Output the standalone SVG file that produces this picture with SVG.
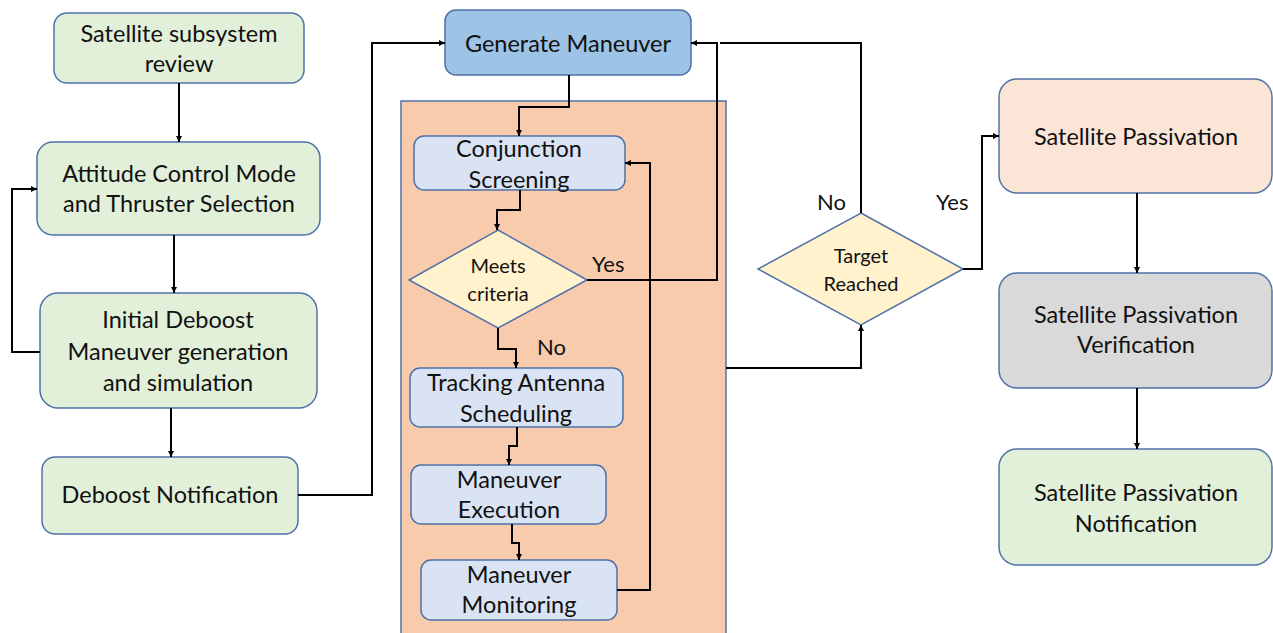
<svg xmlns="http://www.w3.org/2000/svg" width="1273" height="633" viewBox="0 0 1273 633">
<defs>
<marker id="ah" viewBox="0 0 10 10" refX="10" refY="5" markerWidth="6" markerHeight="6" markerUnits="userSpaceOnUse" orient="auto">
<path d="M0,0 L10,5 L0,10 z" fill="#000"/>
</marker>
<style>
.box{stroke:#4F71A8;stroke-width:1.5}
.g{fill:#E2F0D9}.b{fill:#DAE3F3}.gm{fill:#9DC3E6}.y{fill:#FFF2CC}.p{fill:#FBE5D6}.gr{fill:#D9D9D9}
.t{font-family:Lato,"Open Sans",sans-serif;font-size:23.5px;fill:#111;text-anchor:middle}
.s{font-size:20px}
.c{fill:none;stroke:#000;stroke-width:2;marker-end:url(#ah)}
.c2{fill:none;stroke:#000;stroke-width:2}
.lb{font-family:Lato,"Open Sans",sans-serif;font-size:22px;fill:#111}
</style>
</defs>
<rect width="1273" height="633" fill="#fff"/>
<rect id="container" x="401" y="101" width="325" height="540" fill="#F8CBAD" stroke="#4F71A8" stroke-width="1.5"/>
<g id="n1"><rect class="box g" x="54" y="13" width="250" height="70" rx="13"/><text class="t" x="179" y="42">Satellite subsystem</text><text class="t" x="179" y="72">review</text></g>
<g id="n2"><rect class="box g" x="37" y="142" width="283" height="93" rx="16"/><text class="t" x="179" y="182">Attitude Control Mode</text><text class="t" x="179" y="212">and Thruster Selection</text></g>
<g id="n3"><rect class="box g" x="40" y="293" width="277" height="115" rx="18"/><text class="t" x="178" y="328">Initial Deboost</text><text class="t" x="178" y="360">Maneuver generation</text><text class="t" x="178" y="391">and simulation</text></g>
<g id="n4"><rect class="box g" x="42" y="457" width="256" height="77" rx="13"/><text class="t" x="170" y="503">Deboost Notification</text></g>
<g id="gm"><rect class="box gm" x="445" y="10" width="246" height="65" rx="11"/><text class="t" x="568" y="52">Generate Maneuver</text></g>
<g id="cs"><rect class="box b" x="414" y="136" width="211" height="54" rx="10"/><text class="t" x="519" y="157">Conjunction</text><text class="t" x="519" y="188">Screening</text></g>
<g id="mc"><polygon class="box y" points="498,230 587,280 498,328 409,280"/><text class="t s" x="498" y="273">Meets</text><text class="t s" x="498" y="301">criteria</text></g>
<g id="ta"><rect class="box b" x="410" y="368" width="213" height="59" rx="10"/><text class="t" x="516" y="391">Tracking Antenna</text><text class="t" x="516" y="422">Scheduling</text></g>
<g id="me"><rect class="box b" x="411" y="465" width="195" height="59" rx="10"/><text class="t" x="509" y="488">Maneuver</text><text class="t" x="509" y="518">Execution</text></g>
<g id="mm"><rect class="box b" x="421" y="560" width="196" height="60" rx="10"/><text class="t" x="519" y="583">Maneuver</text><text class="t" x="519" y="613">Monitoring</text></g>
<g id="tr"><polygon class="box y" points="861,213 963,269 861,325 758,269"/><text class="t s" x="861" y="263">Target</text><text class="t s" x="861" y="291">Reached</text></g>
<g id="sp"><rect class="box p" x="999" y="79" width="273" height="114" rx="18"/><text class="t" x="1136" y="145">Satellite Passivation</text></g>
<g id="spv"><rect class="box gr" x="999" y="273" width="273" height="115" rx="18"/><text class="t" x="1136" y="323">Satellite Passivation</text><text class="t" x="1136" y="353">Verification</text></g>
<g id="spn"><rect class="box g" x="999" y="449" width="273" height="116" rx="18"/><text class="t" x="1136" y="501">Satellite Passivation</text><text class="t" x="1136" y="532">Notification</text></g>
<g id="connectors">
<path class="c" d="M179,83 V142"/>
<path class="c" d="M174,235 V293"/>
<path class="c" d="M171,408 V457"/>
<path class="c" d="M40,352 H12 V189 H37"/>
<path class="c" d="M298,495 H372 V43 H445"/>
<path class="c" d="M569,75 V107 H519 V136"/>
<path class="c" d="M520,190 V210 H497 V230"/>
<path class="c" d="M587,280 H717 V43 H691"/>
<path class="c" d="M617,590 H650 V163 H625"/>
<path class="c" d="M498,328 V349 H516 V368"/>
<path class="c" d="M517,427 V446 H509 V465"/>
<path class="c" d="M512,524 V543 H519 V560"/>
<path class="c" d="M726,368 H861 V325"/>
<path class="c2" d="M861,213 V43 H720"/>
<path class="c" d="M963,269 H982 V136 H999"/>
<path class="c" d="M1137,193 V273"/>
<path class="c" d="M1137,388 V449"/>
<text class="lb" x="592" y="272">Yes</text>
<text class="lb" x="537" y="355">No</text>
<text class="lb" x="817" y="210">No</text>
<text class="lb" x="936" y="210">Yes</text>
</g>
</svg>
